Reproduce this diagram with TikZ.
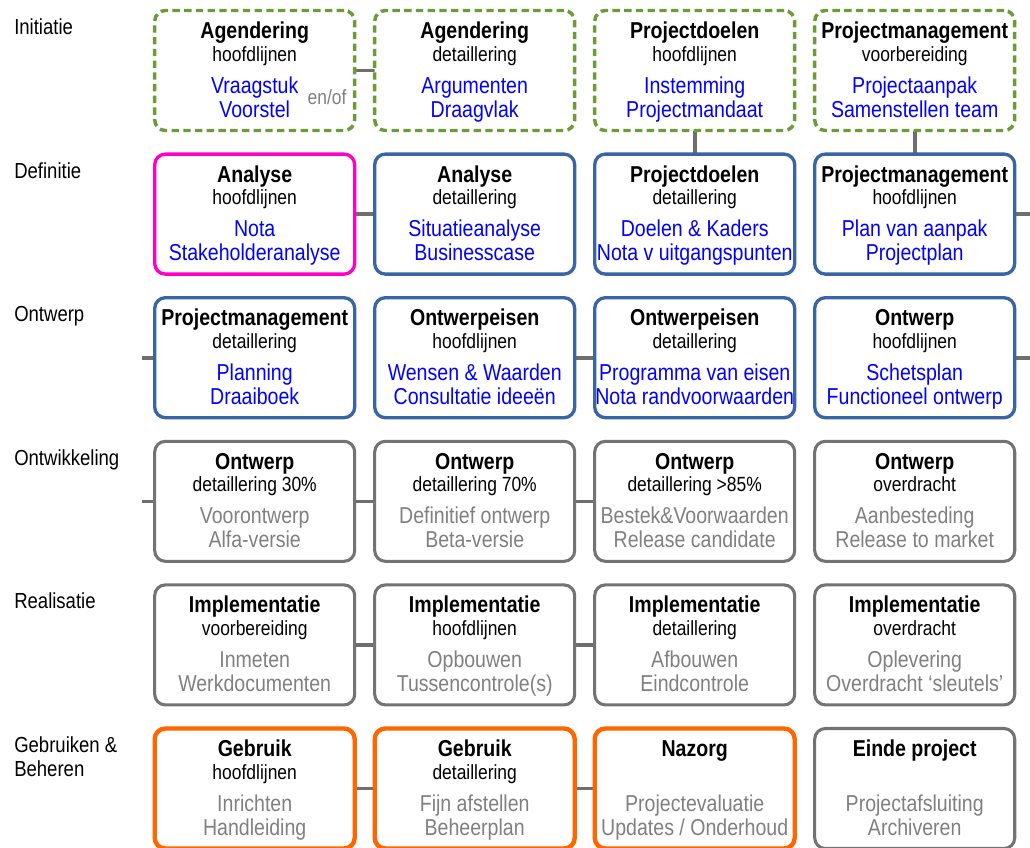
\documentclass[tikz,border=0pt]{standalone}
\usepackage{fontspec}
\setmainfont{Liberation Sans}[FakeStretch=0.85]
\usetikzlibrary{calc,backgrounds}
\definecolor{grn}{HTML}{6E9B3A}
\definecolor{bluec}{HTML}{3A65A5}
\definecolor{pinkc}{HTML}{FF00C8}
\definecolor{grayc}{HTML}{737373}
\definecolor{orangec}{HTML}{FF6600}
\definecolor{connc}{HTML}{6E6E6E}
\definecolor{bluetxt}{HTML}{0000FF}
\definecolor{graytxt}{HTML}{808080}
\newcommand\phb[9]{%
  \node[#4] (#1) at (#2,#3) {};
  \node[phtitle] (#1t) at ($(#1.north)+(0,28)$) {#5};
  \node[phsub] (#1s) at ($(#1.north)+(0,50.5)$) {#6};
  \node[phitem,text=#9] (#1a) at ($(#1.north)+(0,82.5)$) {#7};
  \node[phitem,text=#9] (#1b) at ($(#1.north)+(0,106.5)$) {#8};
}
\begin{document}
\begin{tikzpicture}[x=0.75pt,y=-0.75pt,
  phbox/.style={draw, fill=white, rounded corners=8pt, minimum width=150pt, minimum height=90pt, inner sep=0pt, outer sep=0pt, anchor=north west},
  greenbox/.style={phbox, draw=grn, line width=2.6pt, dash pattern=on 5.5pt off 3.3pt},
  bluebox/.style={phbox, draw=bluec, line width=2.5pt},
  pinkbox/.style={phbox, draw=pinkc, line width=2.5pt},
  graybox/.style={phbox, draw=grayc, line width=2.3pt},
  orangebox/.style={phbox, draw=orangec, line width=3.3pt},
  phtitle/.style={font=\bfseries\fontsize{17.25}{20}\selectfont, anchor=base, inner sep=0pt},
  phsub/.style={font=\fontsize{15.4}{18}\selectfont, anchor=base, inner sep=0pt},
  phitem/.style={font=\fontsize{17.25}{20}\selectfont, anchor=base, inner sep=0pt},
  phlabel/.style={font=\fontsize{16.35}{18}\selectfont, anchor=base west, inner sep=0pt, align=left},
  phconn/.style={draw=connc, line width=2.7pt}]
\useasboundingbox (0,0) rectangle (1030,847);

% row labels
\node[phlabel] (l1) at (14,34.5) {Initiatie};
\node[phlabel] (l2) at (14,178.1) {Definitie};
\node[phlabel] (l3) at (14,321.7) {Ontwerp};
\node[phlabel] (l4) at (14,465.3) {Ontwikkeling};
\node[phlabel] (l5) at (14,608.9) {Realisatie};
\node[phlabel] (l6) at (14,776.7) {Gebruiken \&\\Beheren};

% row 1
\phb{a1}{154.7}{10.5}{greenbox}{Agendering}{hoofdlijnen}{Vraagstuk}{Voorstel}{bluetxt}
\phb{a2}{374.7}{10.5}{greenbox}{Agendering}{detaillering}{Argumenten}{Draagvlak}{bluetxt}
\phb{a3}{594.7}{10.5}{greenbox}{Projectdoelen}{hoofdlijnen}{Instemming}{Projectmandaat}{bluetxt}
\phb{a4}{814.7}{10.5}{greenbox}{Projectmanagement}{voorbereiding}{Projectaanpak}{Samenstellen team}{bluetxt}
\node[phsub, text=graytxt] (enof) at (327,104) {en/of};

% row 2
\phb{b1}{154.7}{154.1}{pinkbox}{Analyse}{hoofdlijnen}{Nota}{Stakeholderanalyse}{bluetxt}
\phb{b2}{374.7}{154.1}{bluebox}{Analyse}{detaillering}{Situatieanalyse}{Businesscase}{bluetxt}
\phb{b3}{594.7}{154.1}{bluebox}{Projectdoelen}{detaillering}{Doelen \& Kaders}{Nota v uitgangspunten}{bluetxt}
\phb{b4}{814.7}{154.1}{bluebox}{Projectmanagement}{hoofdlijnen}{Plan van aanpak}{Projectplan}{bluetxt}

% row 3
\phb{c1}{154.7}{297.7}{bluebox}{Projectmanagement}{detaillering}{Planning}{Draaiboek}{bluetxt}
\phb{c2}{374.7}{297.7}{bluebox}{Ontwerpeisen}{hoofdlijnen}{Wensen \& Waarden}{Consultatie ideeën}{bluetxt}
\phb{c3}{594.7}{297.7}{bluebox}{Ontwerpeisen}{detaillering}{Programma van eisen}{Nota randvoorwaarden}{bluetxt}
\phb{c4}{814.7}{297.7}{bluebox}{Ontwerp}{hoofdlijnen}{Schetsplan}{Functioneel ontwerp}{bluetxt}

% row 4
\phb{d1}{154.7}{441.3}{graybox}{Ontwerp}{detaillering 30\%}{Voorontwerp}{Alfa-versie}{graytxt}
\phb{d2}{374.7}{441.3}{graybox}{Ontwerp}{detaillering 70\%}{Definitief ontwerp}{Beta-versie}{graytxt}
\phb{d3}{594.7}{441.3}{graybox}{Ontwerp}{detaillering >85\%}{Bestek\&Voorwaarden}{Release candidate}{graytxt}
\phb{d4}{814.7}{441.3}{graybox}{Ontwerp}{overdracht}{Aanbesteding}{Release to market}{graytxt}

% row 5
\phb{e1}{154.7}{584.9}{graybox}{Implementatie}{voorbereiding}{Inmeten}{Werkdocumenten}{graytxt}
\phb{e2}{374.7}{584.9}{graybox}{Implementatie}{hoofdlijnen}{Opbouwen}{Tussencontrole(s)}{graytxt}
\phb{e3}{594.7}{584.9}{graybox}{Implementatie}{detaillering}{Afbouwen}{Eindcontrole}{graytxt}
\phb{e4}{814.7}{584.9}{graybox}{Implementatie}{overdracht}{Oplevering}{Overdracht ‘sleutels’}{graytxt}

% row 6
\phb{f1}{154.7}{728.5}{orangebox}{Gebruik}{hoofdlijnen}{Inrichten}{Handleiding}{graytxt}
\phb{f2}{374.7}{728.5}{orangebox}{Gebruik}{detaillering}{Fijn afstellen}{Beheerplan}{graytxt}
\node[orangebox] (f3) at (594.7,728.5) {};
\node[phtitle] (f3t) at ($(f3.north)+(0,28)$) {Nazorg};
\node[phitem,text=graytxt] (f3a) at ($(f3.north)+(0,82.5)$) {Projectevaluatie};
\node[phitem,text=graytxt] (f3b) at ($(f3.north)+(0,106.5)$) {Updates / Onderhoud};
\node[graybox] (f4) at (814.7,728.5) {};
\node[phtitle] (f4t) at ($(f4.north)+(0,28)$) {Einde project};
\node[phitem,text=graytxt] (f4a) at ($(f4.north)+(0,82.5)$) {Projectafsluiting};
\node[phitem,text=graytxt] (f4b) at ($(f4.north)+(0,106.5)$) {Archiveren};

% stub coordinates
\coordinate (b4r) at (1032,214.1);
\coordinate (c1l) at (142,357.7);
\coordinate (c4r) at (1032,357.7);
\coordinate (d1l) at (142,501.3);

\begin{scope}[on background layer]
\fill[white] (0,0) rectangle (1030,847);
\draw[phconn] (a1.east) -- (a2.west);
\draw[phconn] (a3.south) -- (b3.north);
\draw[phconn] (a4.south) -- (b4.north);
\draw[phconn] (b1.east) -- (b2.west);
\draw[phconn] (b4.east) -- (b4r);
\draw[phconn] (c1l) -- (c1.west);
\draw[phconn] (c2.east) -- (c3.west);
\draw[phconn] (c4.east) -- (c4r);
\draw[phconn] (d1l) -- (d1.west);
\draw[phconn] (d1.east) -- (d2.west);
\draw[phconn] (d2.east) -- (d3.west);
\draw[phconn] (e1.east) -- (e2.west);
\draw[phconn] (e2.east) -- (e3.west);
\draw[phconn] (f1.east) -- (f2.west);
\draw[phconn] (f2.east) -- (f3.west);
\end{scope}
\end{tikzpicture}
\end{document}
